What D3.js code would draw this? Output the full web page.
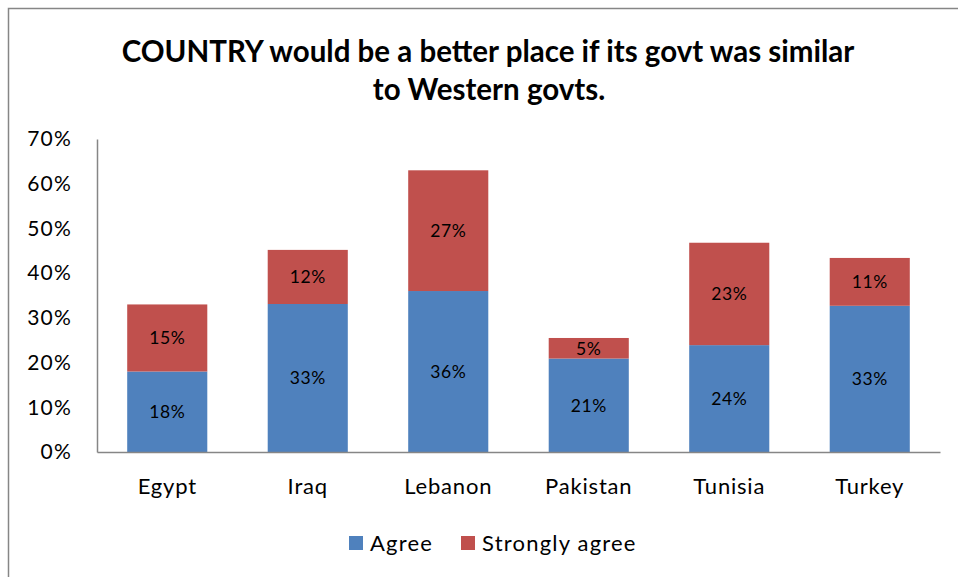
<!DOCTYPE html>
<html><head><meta charset="utf-8">
<script src="https://cdn.jsdelivr.net/npm/d3@7"></script>
<style>body{margin:0;background:#fff}svg{display:block}text{font-family:Lato,"Open Sans",sans-serif}</style>
</head><body>
<svg id="c" width="958" height="577"></svg>
<script>
const categories = ["Egypt","Iraq","Lebanon","Pakistan","Tunisia","Turkey"];
const agree = [18, 33.1, 36, 20.9, 23.9, 32.7];
const stronglyAgree = [15, 12.1, 27, 4.6, 22.9, 10.7];
const agreeLabels = ["18%","33%","36%","21%","24%","33%"];
const strongLabels = ["15%","12%","27%","5%","23%","11%"];
const seriesNames = ["Agree","Strongly agree"];
const colors = ["#4F81BD","#C0504D"];
const yTicks = [0,10,20,30,40,50,60,70];

const svg = d3.select("#c");
svg.append("rect").attr("x",8.5).attr("y",8.5).attr("width",1000).attr("height",1000)
  .attr("fill","none").attr("stroke","#868686").attr("stroke-width",1.5);

svg.append("text").attr("x",488).attr("y",62).attr("text-anchor","middle")
  .attr("font-weight","bold").attr("font-size",29.5).attr("fill","#000")
  .text("COUNTRY would be a better place if its govt was similar");
svg.append("text").attr("x",489).attr("y",100).attr("text-anchor","middle")
  .attr("font-weight","bold").attr("font-size",29.5).attr("fill","#000")
  .text("to Western govts.");

const x = d3.scaleBand().domain(categories).range([97,940]).paddingInner(0.43).paddingOuter(0.215);
const y = d3.scaleLinear().domain([0,70]).range([452,139]);

const data = categories.map((c,i)=>({cat:c, Agree:agree[i], "Strongly agree":stronglyAgree[i], la:agreeLabels[i], ls:strongLabels[i]}));
const stack = d3.stack().keys(seriesNames)(data);

const g = svg.append("g");
stack.forEach((s,si)=>{
  g.selectAll(null).data(s).enter().append("rect")
    .attr("x",d=>x(d.data.cat)).attr("width",x.bandwidth())
    .attr("y",d=>y(d[1])).attr("height",d=>y(d[0])-y(d[1]))
    .attr("fill",colors[si]);
  g.selectAll(null).data(s).enter().append("text")
    .attr("x",d=>x(d.data.cat)+x.bandwidth()/2)
    .attr("y",d=>(y(d[0])+y(d[1]))/2)
    .attr("dy","0.36em").attr("text-anchor","middle").attr("font-size",17.5)
    .attr("letter-spacing",0.6).attr("fill","#000")
    .text(d=>si===0?d.data.la:d.data.ls);
});

// y axis
const ya = svg.append("g").attr("transform","translate(97,0)")
  .call(d3.axisLeft(y).tickValues(yTicks).tickSize(0).tickPadding(25).tickFormat(d=>d+"%"));
ya.select(".domain").attr("stroke","#868686").attr("stroke-width",1.5);
ya.selectAll("text").attr("font-size",21).attr("letter-spacing",1.2).attr("fill","#000").attr("font-family","Lato,sans-serif");

// x axis
const xa = svg.append("g").attr("transform","translate(0,452)")
  .call(d3.axisBottom(x).tickSize(0).tickPadding(26));
xa.select(".domain").attr("stroke","#868686").attr("stroke-width",1.5);
xa.selectAll("text").attr("font-size",22).attr("letter-spacing",0.8).attr("fill","#000").attr("font-family","Lato,sans-serif");

// legend
const lx = [349,461];
seriesNames.forEach((n,i)=>{
  svg.append("rect").attr("x",lx[i]).attr("y",536).attr("width",14).attr("height",14).attr("fill",colors[i]);
  svg.append("text").attr("x",lx[i]+21).attr("y",551).attr("font-size",22).attr("letter-spacing",1.2).attr("fill","#000").text(n);
});
</script>
</body></html>
